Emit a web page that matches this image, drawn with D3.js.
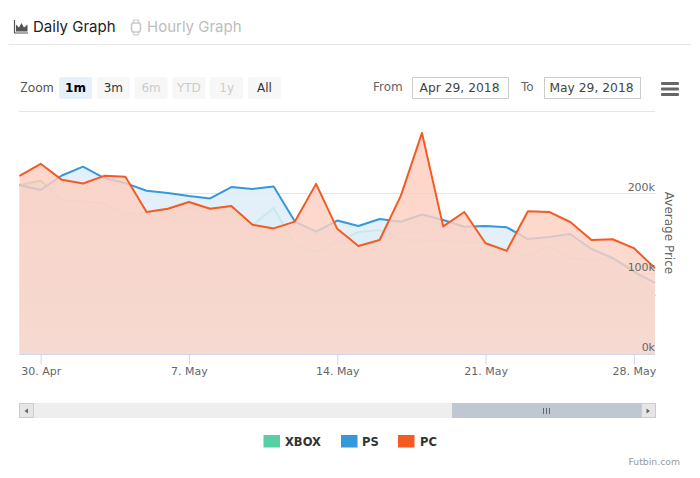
<!DOCTYPE html>
<html>
<head>
<meta charset="utf-8">
<script src="https://cdnjs.cloudflare.com/ajax/libs/d3/7.8.5/d3.min.js"></script>
<style>
  body { margin: 0; background: #fff; }
  svg { display: block; }
  text { font-family: "DejaVu Sans", sans-serif; }
  .head { font-family: Inter, sans-serif; }
</style>
</head>
<body>
<div id="chart"></div>
<script>
// Serien (29. Apr - 29. Mai 2018)
const startDay = new Date(Date.UTC(2018, 3, 29));
const endDay = new Date(Date.UTC(2018, 4, 29));
const xbox = [210600,216000,191900,190000,188200,174400,175700,178200,181900,181900,176900,160700,181900,135800,127100,139900,152000,154500,142700,142000,140800,139600,138300,129600,121200,134600,119600,117100,119600,104700,72300];
const ps = [210600,204300,222400,233400,219300,213000,203500,200600,196900,193800,208000,205600,208700,165000,152600,166300,159500,168200,164800,173800,167000,158600,159500,157900,143300,145800,149500,130800,119600,102500,88500];
const pc = [222000,237000,217000,212500,222000,221000,177000,181000,189500,181000,184500,161000,156500,165000,212000,156000,134500,142000,197000,275500,159000,177000,138000,128500,178000,177000,164500,142000,143000,132000,107000];
const yTicks = [0, 100000, 200000];
const xTickDays = [new Date(Date.UTC(2018,3,30)), new Date(Date.UTC(2018,4,7)), new Date(Date.UTC(2018,4,14)), new Date(Date.UTC(2018,4,21)), new Date(Date.UTC(2018,4,28))];
const zoomButtons = ["1m", "3m", "6m", "YTD", "1y", "All"];

const days = d3.utcDay.range(startDay, d3.utcDay.offset(endDay, 1));

const width = 700, height = 478;
const svg = d3.select("#chart").append("svg").attr("width", width).attr("height", height);

const x = d3.scaleUtc().domain([startDay, endDay]).range([19.5, 655]);
const y = d3.scaleLinear().domain([0, 200000]).range([354, 193.5]);

// Verlauf fuer die PC-Flaeche
const grad = svg.append("defs").append("linearGradient").attr("id", "pcFill")
  .attr("gradientUnits", "userSpaceOnUse").attr("x1", 0).attr("x2", 0).attr("y1", 133).attr("y2", 354);
grad.append("stop").attr("offset", 0).attr("stop-color", "#ffcbbc").attr("stop-opacity", 0.8);
grad.append("stop").attr("offset", 1).attr("stop-color", "#fad6ca").attr("stop-opacity", 0.85);

// Kopfzeile
svg.append("line").attr("x1", 9).attr("x2", 691).attr("y1", 44.5).attr("y2", 44.5).attr("stroke", "#e6e6e6");
const crown = svg.append("g").attr("transform", "translate(14,20)");
crown.append("path").attr("d", "M0.5,0V13H14").attr("fill", "none").attr("stroke", "#555").attr("stroke-width", 1.2);
crown.append("path").attr("d", "M2,11.5V4.5L5,7.5L7.5,3L10,7.5L13.5,4.5V11.5Z").attr("fill", "#555");
svg.append("text").attr("class", "head").attr("x", 33).attr("y", 32).attr("font-size", 15).attr("fill", "#222").text("Daily Graph");
const watch = svg.append("g").attr("transform", "translate(130,20)").attr("fill", "none").attr("stroke", "#c9c9c9");
watch.append("rect").attr("x", 1.5).attr("y", 3).attr("width", 9).attr("height", 9).attr("rx", 2.5).attr("stroke-width", 1.6);
watch.append("path").attr("d", "M3,3L4,0H8L9,3M3,12L4,15H8L9,12").attr("stroke-width", 1.2);
svg.append("text").attr("class", "head").attr("x", 147).attr("y", 32).attr("font-size", 15).attr("fill", "#bdbdbd").text("Hourly Graph");

// Zoom-Leiste
svg.append("text").attr("class", "head").attr("x", 20).attr("y", 92).attr("font-size", 12.5).attr("fill", "#555").text("Zoom");
const btn = svg.selectAll("g.zoom-btn").data(zoomButtons).join("g").attr("class", "zoom-btn")
  .attr("transform", (d, i) => `translate(${59 + i * 37.8},77)`);
btn.append("rect").attr("width", 33).attr("height", 22).attr("rx", 2)
  .attr("fill", (d, i) => i === 0 ? "#e6f0fa" : "#f7f7f7");
btn.append("text").attr("x", 16.5).attr("y", 15).attr("text-anchor", "middle").attr("font-size", 12)
  .attr("font-weight", (d, i) => i === 0 ? "bold" : "normal")
  .attr("fill", (d, i) => i === 0 ? "#000" : (i === 1 || i === 5) ? "#333" : "#ccc")
  .text(d => d);

// Datumsfelder
svg.append("text").attr("x", 373).attr("y", 91).attr("font-size", 12).attr("fill", "#666").text("From");
svg.append("rect").attr("x", 412.5).attr("y", 77.5).attr("width", 96).attr("height", 21).attr("fill", "#fff").attr("stroke", "#ccc");
svg.append("text").attr("x", 459.5).attr("y", 91.5).attr("text-anchor", "middle").attr("font-size", 12.3).attr("fill", "#444").text("Apr 29, 2018");
svg.append("text").attr("x", 521).attr("y", 91).attr("font-size", 12).attr("fill", "#666").text("To");
svg.append("rect").attr("x", 544.5).attr("y", 77.5).attr("width", 96).attr("height", 21).attr("fill", "#fff").attr("stroke", "#ccc");
svg.append("text").attr("x", 591.5).attr("y", 91.5).attr("text-anchor", "middle").attr("font-size", 12.3).attr("fill", "#444").text("May 29, 2018");
svg.selectAll("rect.burger").data([82, 87.5, 93]).join("rect").attr("class", "burger")
  .attr("x", 661).attr("y", d => d).attr("width", 18).attr("height", 3).attr("rx", 1).attr("fill", "#666");
svg.append("line").attr("x1", 19).attr("x2", 655).attr("y1", 111.5).attr("y2", 111.5).attr("stroke", "#e6e6e6");

// Gitter
svg.selectAll("line.grid").data(yTicks.slice(1)).join("line").attr("class", "grid")
  .attr("x1", 19.5).attr("x2", 655).attr("y1", d => y(d)).attr("y2", d => y(d))
  .attr("stroke", "#e6e6e6").attr("stroke-width", 1);

// Flaechen und Linien
const series = [
  { name: "XBOX", values: xbox, color: "#55cfa3", fill: "rgba(222,244,236,0.82)" },
  { name: "PS", values: ps, color: "#3498db", fill: "rgba(222,237,248,0.85)" },
  { name: "PC", values: pc, color: "#f45b22", fill: "url(#pcFill)" }
];
const area = d3.area().x((d, i) => x(days[i])).y0(y(0)).y1(d => y(d));
const line = d3.line().x((d, i) => x(days[i])).y(d => y(d));

series.forEach(s => {
  svg.append("path").datum(s.values).attr("d", area).attr("fill", s.fill);
  svg.append("path").datum(s.values).attr("d", line).attr("fill", "none")
    .attr("stroke", s.color).attr("stroke-width", 2).attr("stroke-linejoin", "round");
});

// X-Achse
const xAxisG = svg.append("g").attr("transform", `translate(0,${y(0) + 0.5})`)
  .call(d3.axisBottom(x).tickValues(xTickDays).tickSize(10).tickPadding(3).tickFormat(d3.utcFormat("%-d. %b")));
xAxisG.select(".domain").attr("stroke", "#ccd6eb").attr("d", "M19.5,0H655");
xAxisG.selectAll("line").attr("stroke", "#ccd6eb");
xAxisG.selectAll("text").attr("font-family", "DejaVu Sans").attr("font-size", 11).attr("fill", "#666");

// Y-Achse (Beschriftung innen, rechtsbuendig ueber der Gitterlinie)
svg.selectAll("text.ytick").data(yTicks).join("text").attr("class", "ytick")
  .attr("x", 655).attr("y", d => y(d) - 3).attr("text-anchor", "end")
  .attr("font-size", 11).attr("fill", "#666").text(d => (d / 1000) + "k");
svg.append("text").attr("transform", "translate(665,233) rotate(90)").attr("text-anchor", "middle")
  .attr("font-size", 12).attr("fill", "#666").text("Average Price");

// Scrollbar
svg.append("rect").attr("x", 19).attr("y", 403).attr("width", 636).attr("height", 15).attr("fill", "#eee");
svg.append("rect").attr("x", 452).attr("y", 403).attr("width", 189).attr("height", 15).attr("fill", "#bfc7d2");
svg.selectAll("rect.sbtn").data([19, 641]).join("rect").attr("class", "sbtn")
  .attr("x", d => d + 0.5).attr("y", 403.5).attr("width", 14).attr("height", 14).attr("fill", "#e6e6e6").attr("stroke", "#ccc");
svg.append("path").attr("d", "M28,408.5V413.5L24.5,411Z").attr("fill", "#666");
svg.append("path").attr("d", "M646.5,408.5V413.5L650,411Z").attr("fill", "#666");
svg.selectAll("line.grip").data([543.5, 546.5, 549.5]).join("line").attr("class", "grip")
  .attr("x1", d => d).attr("x2", d => d).attr("y1", 408).attr("y2", 414).attr("stroke", "#666");

// Legende
const legendPos = [{ sw: 263.5, tx: 285 }, { sw: 341, tx: 362 }, { sw: 398, tx: 420 }];
const legend = svg.selectAll("g.legend").data(series).join("g").attr("class", "legend");
legend.append("rect").attr("x", (d, i) => legendPos[i].sw).attr("y", 435).attr("width", 16.5).attr("height", 12.5).attr("fill", d => d.color);
legend.append("text").attr("x", (d, i) => legendPos[i].tx).attr("y", 446).attr("font-size", 11.5).attr("font-weight", "bold").attr("fill", "#333").text(d => d.name);

svg.append("text").attr("x", 680).attr("y", 465).attr("text-anchor", "end").attr("font-size", 9.3).attr("fill", "#999").text("Futbin.com");
</script>
</body>
</html>
